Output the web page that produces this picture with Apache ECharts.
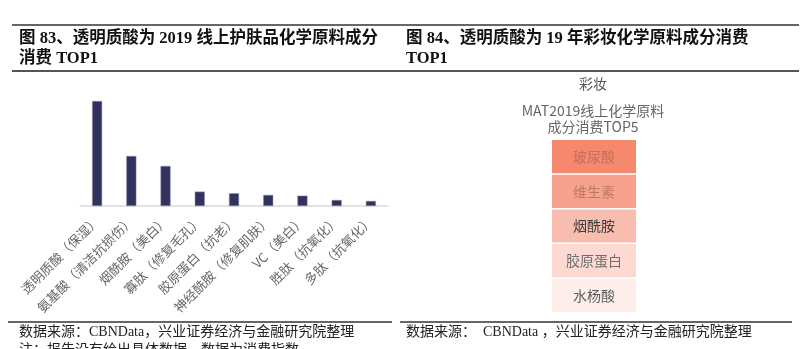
<!DOCTYPE html>
<html>
<head>
<meta charset="utf-8">
<script src="https://cdn.jsdelivr.net/npm/echarts@6/dist/echarts.min.js"></script>
<style>
html,body{margin:0;padding:0;background:#fff;}
#chart{width:809px;height:349px;}
</style>
</head>
<body>
<div id="chart"></div>
<script>
// Left chart: ingredient consumption index (relative)
const skinCategories = ['透明质酸（保湿）','氨基酸（清洁抗损伤）','烟酰胺（美白）','寡肽（修复毛孔）','胶原蛋白（抗老）','神经酰胺（修复肌肤）','VC（美白）','胜肽（抗氧化）','多肽（抗氧化）'];
const skinValues = [100, 47.6, 38.1, 13.7, 12.1, 10.5, 9.8, 5.7, 4.8];

// Right chart: makeup top 5 ingredients (rank order)
const makeupNames = ['玻尿酸','维生素','烟酰胺','胶原蛋白','水杨酸'];
const makeupRanks = [5, 4, 3, 2, 1];
const makeupColors = ['#f5886d','#f7a28d','#f9bdaf','#fcdad2','#feeeea'];
const makeupTextColors = ['#c0705c','#c07868','#3c3c3c','#6e6e6e','#5a5a5a'];

const titleLeft = '图 83、透明质酸为 2019 线上护肤品化学原料成分\n消费 TOP1';
const titleRight = '图 84、透明质酸为 19 年彩妆化学原料成分消费\nTOP1';
const sourceLeft = '数据来源：CBNData，兴业证券经济与金融研究院整理';
const noteLeft = '注：报告没有给出具体数据，数据为消费指数';
const sourceRight = '数据来源：  CBNData ，兴业证券经济与金融研究院整理';
const makeupHeader = '彩妆';
const makeupSub = 'MAT2019线上化学原料\n成分消费TOP5';

const serif = '"Liberation Serif", "Noto Sans CJK SC", serif';
const sans = '"Noto Sans CJK SC", sans-serif';

const chart = echarts.init(document.getElementById('chart'));
chart.setOption({
  animation: false,
  backgroundColor: '#ffffff',
  title: [
    {text: titleLeft, left: 19, top: 29, padding: 0, textStyle: {fontFamily: serif, fontWeight: 'bold', fontSize: 16.5, color: '#111', lineHeight: 20}},
    {text: titleRight, left: 406, top: 29, padding: 0, textStyle: {fontFamily: serif, fontWeight: 'bold', fontSize: 16.5, color: '#111', lineHeight: 20}},
    {text: sourceLeft, left: 19, top: 325, padding: 0, textStyle: {fontFamily: serif, fontWeight: 'normal', fontSize: 14, color: '#222'}},
    {text: noteLeft, left: 19, top: 343, padding: 0, textStyle: {fontFamily: serif, fontWeight: 'normal', fontSize: 14, color: '#222'}},
    {text: sourceRight, left: 406, top: 325, padding: 0, textStyle: {fontFamily: serif, fontWeight: 'normal', fontSize: 14, color: '#222'}},
    {text: makeupHeader, left: 593, textAlign: 'center', top: 77, padding: 0, textStyle: {fontFamily: sans, fontWeight: 'normal', fontSize: 14, color: '#555'}},
    {text: makeupSub, left: 593, textAlign: 'center', top: 103, padding: 0, textStyle: {fontFamily: sans, fontWeight: 'normal', fontSize: 14, color: '#666', lineHeight: 16}}
  ],
  graphic: [
    {type: 'line', shape: {x1: 12, y1: 25, x2: 799, y2: 25}, style: {stroke: '#333', lineWidth: 1.5}},
    {type: 'line', shape: {x1: 12, y1: 71, x2: 799, y2: 71}, style: {stroke: '#555', lineWidth: 2}},
    {type: 'line', shape: {x1: 8, y1: 322, x2: 392, y2: 322}, style: {stroke: '#333', lineWidth: 1.5}},
    {type: 'line', shape: {x1: 400, y1: 322, x2: 792, y2: 322}, style: {stroke: '#333', lineWidth: 1.5}}
  ],
  grid: {left: 80, right: 421, top: 101, bottom: 143},
  xAxis: {
    type: 'category',
    data: skinCategories,
    axisLine: {lineStyle: {color: '#d9d9d9', width: 1.5}},
    axisTick: {show: false},
    axisLabel: {rotate: 45, interval: 0, margin: 12, fontSize: 13, color: '#666', fontFamily: sans}
  },
  yAxis: {type: 'value', min: 0, max: 100, show: false, splitLine: {show: false}},
  series: [
    {
      type: 'bar',
      data: skinValues,
      barWidth: 10,
      itemStyle: {color: '#32325f', borderColor: '#8a8aa8', borderWidth: 0.5}
    },
    {
      type: 'funnel',
      left: 552, top: 140, width: 84, height: 172,
      sort: 'none',
      gap: 1.5,
      min: 0, max: 5,
      minSize: '100%', maxSize: '100%',
      data: makeupNames.map((n, i) => ({
        name: n, value: makeupRanks[i],
        itemStyle: {color: makeupColors[i], borderWidth: 0},
        label: {color: makeupTextColors[i]}
      })),
      label: {show: true, position: 'inside', fontSize: 14, fontFamily: sans},
      labelLine: {show: false},
      emphasis: {disabled: true}
    }
  ]
});
</script>
</body>
</html>
